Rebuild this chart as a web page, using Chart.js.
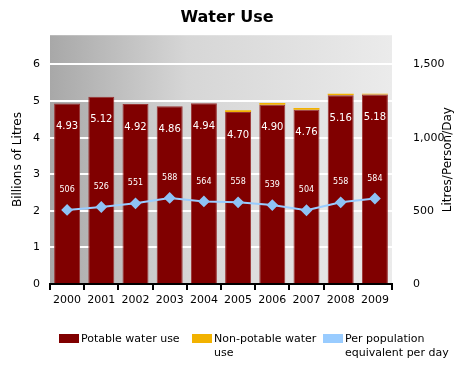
<!DOCTYPE html>
<html>
<head>
<meta charset="utf-8">
<script src="https://cdn.jsdelivr.net/npm/chart.js@4"></script>
<style>
  body { margin: 0; background: #fff; }
  #wrap { position: relative; width: 454px; height: 365px; }
  .leg { position: absolute; font: 11px "DejaVu Sans", sans-serif; color: #000; line-height: 14px; }
  .leg i { position: absolute; left: 0; top: 2px; width: 20px; height: 9px; }
  .leg span { display: block; margin-left: 22px; }
</style>
</head>
<body>
<div id="wrap">
  <canvas id="waterChart" width="454" height="365"></canvas>
  <div class="leg" style="left:59px;top:332px;"><i style="background:#800000"></i><span>Potable water use</span></div>
  <div class="leg" style="left:192px;top:332px;"><i style="background:#f2b200"></i><span>Non-potable water<br>use</span></div>
  <div class="leg" style="left:323px;top:332px;"><i style="background:#99ccff"></i><span>Per population<br>equivalent per day</span></div>
</div>
<script>
// Chart data
const years = ['2000', '2001', '2002', '2003', '2004', '2005', '2006', '2007', '2008', '2009'];
const potable = [4.93, 5.12, 4.92, 4.86, 4.94, 4.70, 4.90, 4.76, 5.16, 5.18];
const nonPotable = [0, 0, 0, 0, 0, 0.05, 0.05, 0.05, 0.04, 0.02];
const perPerson = [506, 526, 551, 588, 564, 558, 539, 504, 558, 584];
const leftTicks = [0, 1, 2, 3, 4, 5, 6];
const rightTicks = [0, 500, 1000, 1500];

// Gradient behind the plot area
const plotBackground = {
    id: 'plotBackground',
    beforeDraw(chart) {
        const { ctx, chartArea: a } = chart;
        const g = ctx.createLinearGradient(a.left, 0, a.right, 0);
        g.addColorStop(0, '#a8a8a8');
        g.addColorStop(0.4, '#d6d6d6');
        g.addColorStop(1, '#ebebeb');
        ctx.save();
        ctx.fillStyle = g;
        ctx.fillRect(a.left, a.top, a.right - a.left, a.bottom - a.top);
        ctx.restore();
    }
};

// Value labels plus the right axis title (drawn bottom-to-top like the left one)
const valueLabels = {
    id: 'valueLabels',
    afterDatasetsDraw(chart) {
        const ctx = chart.ctx;
        ctx.save();
        ctx.fillStyle = '#fff';
        ctx.textAlign = 'center';
        ctx.textBaseline = 'middle';

        ctx.font = '10px "DejaVu Sans", sans-serif';
        chart.getDatasetMeta(0).data.forEach((bar, i) => {
            ctx.fillText(potable[i].toFixed(2), bar.x, bar.y + 23);
        });

        ctx.font = '8px "DejaVu Sans", sans-serif';
        chart.getDatasetMeta(2).data.forEach((pt, i) => {
            ctx.fillText(String(perPerson[i]), pt.x, pt.y - 20);
        });

        const a = chart.chartArea;
        ctx.fillStyle = '#000';
        ctx.font = '12px "DejaVu Sans", sans-serif';
        ctx.translate(448, (a.top + a.bottom) / 2);
        ctx.rotate(-Math.PI / 2);
        ctx.fillText('Litres/Person/Day', 0, 0);
        ctx.restore();
    }
};

const ctx = document.getElementById('waterChart').getContext('2d');
new Chart(ctx, {
    data: {
        labels: years,
        datasets: [
            {
                type: 'bar',
                label: 'Potable water use',
                data: potable,
                backgroundColor: '#800000',
                borderColor: '#993333',
                borderWidth: 1,
                yAxisID: 'y',
                stack: 'use',
                barPercentage: 0.76,
                categoryPercentage: 1,
                order: 2
            },
            {
                type: 'bar',
                label: 'Non-potable water use',
                data: nonPotable,
                backgroundColor: '#f2b200',
                yAxisID: 'y',
                stack: 'use',
                barPercentage: 0.76,
                categoryPercentage: 1,
                order: 2
            },
            {
                type: 'line',
                label: 'Per population equivalent per day',
                data: perPerson,
                yAxisID: 'y1',
                borderColor: '#99ccff',
                borderWidth: 2,
                pointStyle: 'rectRot',
                pointRadius: 4.5,
                pointBackgroundColor: '#8ec2f5',
                pointBorderColor: '#8ec2f5',
                tension: 0,
                order: 1
            }
        ]
    },
    options: {
        responsive: false,
        animation: false,
        locale: 'en-US',
        plugins: {
            legend: { display: false },
            tooltip: { enabled: false },
            title: {
                display: true,
                text: 'Water Use',
                color: '#000',
                font: { family: '"DejaVu Sans", sans-serif', size: 16, weight: 'bold' },
                padding: { top: 8, bottom: 8 }
            }
        },
        scales: {
            x: {
                stacked: true,
                offset: true,
                grid: { offset: true, drawOnChartArea: false, drawTicks: true, tickLength: 6, color: '#000', lineWidth: 2 },
                border: { display: true, color: '#000', width: 2 },
                ticks: { color: '#000', font: { family: '"DejaVu Sans", sans-serif', size: 11 }, padding: 4, maxRotation: 0 },
                afterFit: s => { s.height = 81; }
            },
            y: {
                stacked: true,
                position: 'left',
                min: 0,
                max: 6.8,
                grid: { color: '#fff', lineWidth: 2, drawTicks: false },
                border: { display: false },
                afterBuildTicks: s => { s.ticks = leftTicks.map(v => ({ value: v })); },
                ticks: { color: '#000', padding: 10, font: { family: '"DejaVu Sans", sans-serif', size: 11 } },
                title: { display: true, text: 'Billions of Litres', color: '#000', font: { family: '"DejaVu Sans", sans-serif', size: 12 }, padding: { top: 11, bottom: 0 } },
                afterFit: s => { s.width = 50; }
            },
            y1: {
                position: 'right',
                min: 0,
                max: 1700,
                grid: { display: false },
                border: { display: false },
                afterBuildTicks: s => { s.ticks = rightTicks.map(v => ({ value: v })); },
                ticks: {
                    color: '#000',
                    padding: 13,
                    font: { family: '"DejaVu Sans", sans-serif', size: 11 },
                    callback: v => v.toLocaleString('en-US')
                },
                afterFit: s => { s.width = 62; }
            }
        }
    },
    plugins: [plotBackground, valueLabels]
});
</script>
</body>
</html>
